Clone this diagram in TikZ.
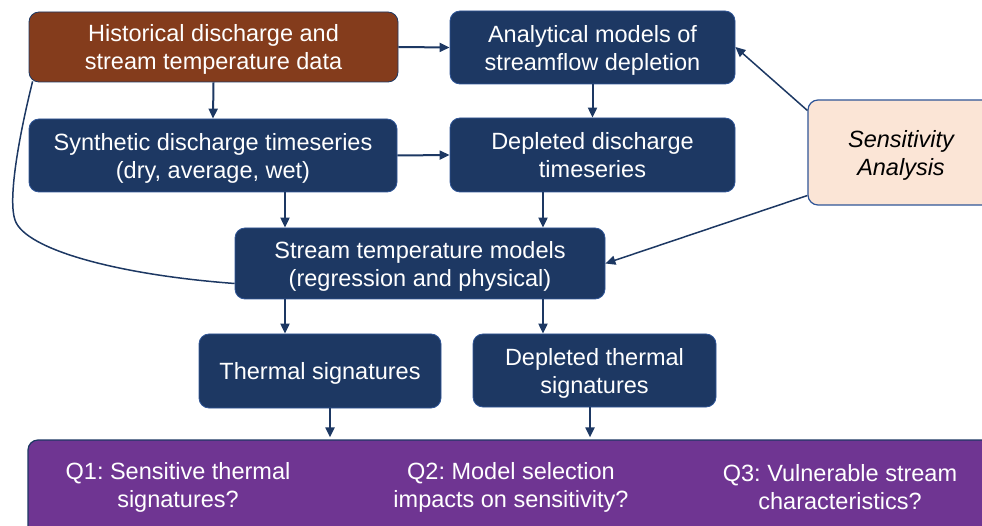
\documentclass[tikz,border=0pt]{standalone}
\usepackage{fontspec}
\setmainfont{Liberation Sans}
\frenchspacing
\usetikzlibrary{arrows.meta}
\definecolor{navy}{HTML}{1D3863}
\definecolor{navyedge}{HTML}{2F5597}
\definecolor{rust}{HTML}{843C1C}
\definecolor{plum}{HTML}{6F3592}
\definecolor{peach}{HTML}{FBE5D6}
\newcommand{\lowtxt}[1]{\raisebox{-3pt}[\height][\depth]{\begin{tabular}{@{}c@{}}#1\end{tabular}}}
\begin{document}
\begin{tikzpicture}[x=1pt,y=-1pt,
  box/.style={draw=navyedge, line width=0.8pt, fill=navy, text=white, rounded corners=10pt,
    align=center, font=\fontsize{23.5}{28}\selectfont, inner sep=0pt},
  conn/.style={draw=navy, line width=2pt, -{Triangle[length=10pt,width=9pt]}},
  qtext/.style={text=white, align=center, font=\fontsize{23.5}{28}\selectfont, inner sep=0pt}]
\useasboundingbox (0,0) rectangle (982,526);
\clip (0,0) rectangle (982,526);
\node[box, fill=rust, draw=navy, minimum width=369pt, minimum height=70pt] (hist) at (213.5,47) {\lowtxt{Historical discharge and\\stream temperature data}};
\node[box, minimum width=285pt, minimum height=73pt] (ana) at (592.5,47.5) {\lowtxt{Analytical models of\\streamflow depletion}};
\node[box, minimum width=368pt, minimum height=73pt] (syn) at (213,155.5) {\lowtxt{Synthetic discharge timeseries\\(dry, average, wet)}};
\node[box, minimum width=285pt, minimum height=74pt] (dep) at (592.5,155) {\lowtxt{Depleted discharge\\timeseries}};
\node[box, fill=peach, text=black, draw=navyedge, line width=1.2pt, minimum width=186pt, minimum height=105pt, font=\fontsize{23.5}{28}\selectfont\itshape] (sens) at (901,152.5) {\lowtxt{Sensitivity\\Analysis}};
\node[box, minimum width=370pt, minimum height=71pt] (stm) at (420,263.5) {\lowtxt{Stream temperature models\\(regression and physical)}};
\node[box, minimum width=242pt, minimum height=74pt] (th) at (320,371) {\lowtxt{Thermal signatures}};
\node[box, minimum width=243pt, minimum height=73pt] (dt) at (594.5,370.5) {\lowtxt{Depleted thermal\\signatures}};
\node[box, fill=plum, draw=navy, line width=1.2pt, minimum width=972pt, minimum height=100pt] (qbar) at (514,490) {};
\node[qtext] (q1) at (178,487) {Q1: Sensitive thermal\\signatures?};
\node[qtext] (q2) at (511,487) {Q2: Model selection\\impacts on sensitivity?};
\node[qtext] (q3) at (840,487) {Q3: Vulnerable stream\\characteristics?};
% connectors
\draw[conn] (hist.east) -- (ana.west);
\draw[conn] (hist.south) -- (syn.north);
\draw[conn] (syn.east) -- (dep.west);
\draw[conn] (ana.south) -- (dep.north);
\draw[conn] ([xshift=72pt]syn.south) -- ([xshift=72pt]syn.south |- stm.north);
\draw[conn] ([xshift=-49.5pt]dep.south) -- ([xshift=-49.5pt]dep.south |- stm.north);
\draw[conn] ([xshift=-135pt]stm.south) -- ([xshift=-135pt]stm.south |- th.north);
\draw[conn] ([xshift=123pt]stm.south) -- ([xshift=123pt]stm.south |- dt.north);
\draw[conn] ([xshift=10pt]th.south) -- ([xshift=10pt,yshift=2pt]th.south |- qbar.north);
\draw[conn] ([xshift=-4.5pt]dt.south) -- ([xshift=-4.5pt,yshift=2pt]dt.south |- qbar.north);
\draw[conn, line width=1.5pt] ([yshift=42pt]sens.west) -- ([yshift=0.5pt]ana.east);
\draw[conn, line width=1.5pt] ([yshift=-43pt]sens.west) -- (stm.east);
\draw[draw=navy, line width=1.5pt] ([xshift=4pt,yshift=1pt]hist.south west) .. controls (18,140) and (8,200) .. (15,220) .. controls (25,250) and (120,275) .. ([yshift=-20pt]stm.west);
\end{tikzpicture}
\end{document}
